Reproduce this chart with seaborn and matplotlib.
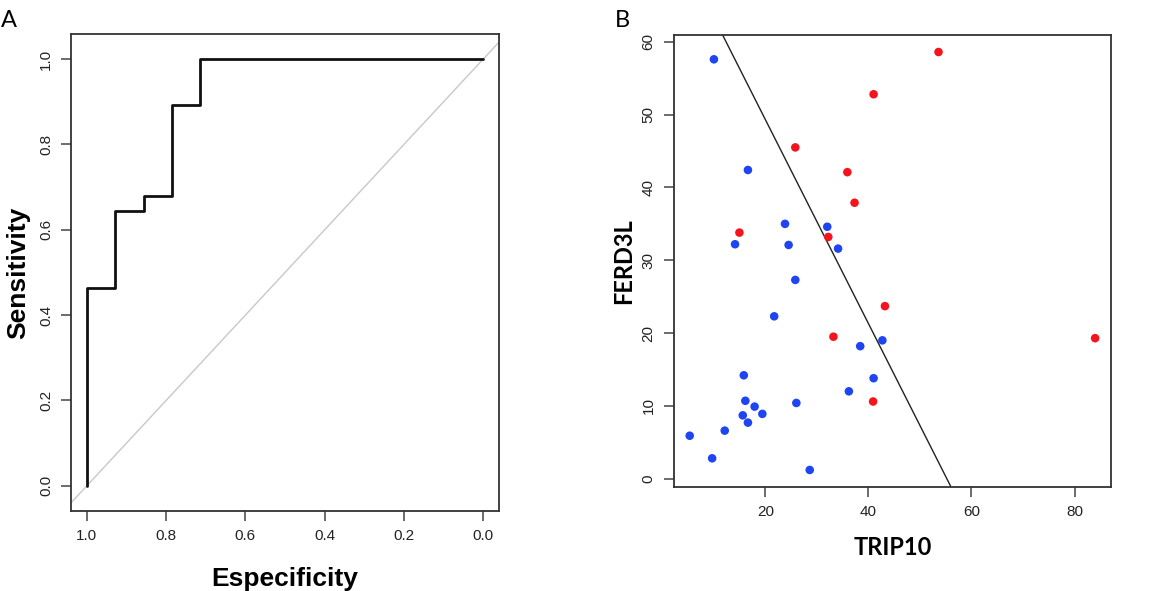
import matplotlib
matplotlib.use("Agg")
import matplotlib.pyplot as plt
import seaborn as sns
import pandas as pd
import numpy as np

# ---- Panel A data (ROC) ----
specificity = [1.0, 1.0, 0.929, 0.857, 0.786, 0.714, 0.0]
sensitivity = [0.0, 0.464, 0.643, 0.679, 0.893, 1.0, 1.0]
roc_ticks = [0.0, 0.2, 0.4, 0.6, 0.8, 1.0]

# ---- Panel B data (scatter) ----
trip10_blue = [10.0, 16.6, 23.8, 32.0, 14.1, 24.5, 34.1, 25.8, 21.7, 42.7, 38.4, 15.8,
               41.0, 36.2, 16.1, 26.0, 17.9, 15.6, 19.4, 16.6, 12.1, 5.3, 9.65, 28.6]
ferd3l_blue = [57.6, 42.4, 35.0, 34.6, 32.2, 32.1, 31.6, 27.3, 22.3, 19.0, 18.2, 14.2,
               13.8, 12.0, 10.7, 10.4, 9.9, 8.7, 8.9, 7.7, 6.6, 5.9, 2.8, 1.2]
trip10_red = [53.6, 41.0, 25.8, 35.9, 37.3, 14.95, 32.2, 43.2, 33.2, 84.0, 40.9]
ferd3l_red = [58.6, 52.8, 45.5, 42.1, 37.9, 33.8, 33.2, 23.7, 19.5, 19.3, 10.6]
line_intercept = 77.3
line_slope = -1.40
x_ticks_b = [20, 40, 60, 80]
y_ticks_b = [0, 10, 20, 30, 40, 50, 60]

sns.set_theme(style="white")
plt.rcParams['font.family'] = ['Liberation Sans', 'DejaVu Sans']
plt.rcParams['text.color'] = 'black'
plt.rcParams['axes.labelcolor'] = 'black'

fig = plt.figure(figsize=(11.75, 5.91), dpi=100)
axA = fig.add_axes([0.0604, 0.1354, 0.3643, 0.8071])
axB = fig.add_axes([0.5734, 0.176, 0.3722, 0.7643])

spine_col = "#333333"
tick_col = "#444444"

# Panel A
roc_df = pd.DataFrame({"spec": specificity, "sens": sensitivity})
axA.axline((1.0, 0.0), slope=-1, color="#c8c8c8", lw=1.0, zorder=1)
sns.lineplot(data=roc_df, x="spec", y="sens", ax=axA, sort=False, estimator=None,
             drawstyle="steps-post", color="#111111", lw=2.0, zorder=3)
axA.set_xlim(1.04, -0.04)
axA.set_ylim(-0.059, 1.059)
axA.set_xticks(roc_ticks)
axA.set_xticklabels([f"{v:.1f}" for v in roc_ticks])
axA.set_yticks(roc_ticks)
axA.set_yticklabels([f"{v:.1f}" for v in roc_ticks], rotation=90, va="center")
axA.set_xlabel("Especificity", fontsize=19, fontweight="bold", labelpad=17, color="black")
axA.set_ylabel("Sensitivity", fontsize=19, fontweight="bold", labelpad=6, color="black")

# Panel B
scat = pd.DataFrame({
    "TRIP10": trip10_blue + trip10_red,
    "FERD3L": ferd3l_blue + ferd3l_red,
    "grp": ["blue"] * len(trip10_blue) + ["red"] * len(trip10_red),
})
sns.scatterplot(data=scat, x="TRIP10", y="FERD3L", hue="grp", ax=axB,
                palette={"blue": "#1f44f2", "red": "#f5141e"}, s=38,
                edgecolor="none", legend=False, zorder=3)
axB.axline((0, line_intercept), slope=line_slope, color="#222222", lw=1.0, zorder=2)
axB.set_xlim(2.2, 87.1)
axB.set_ylim(-1.14, 60.9)
axB.set_xticks(x_ticks_b)
axB.set_yticks(y_ticks_b)
axB.set_yticklabels([str(v) for v in y_ticks_b], rotation=90, va="center")
axB.set_xlabel("TRIP10", fontsize=17, fontweight="bold", family=["Lato", "DejaVu Sans"],
               labelpad=12, color="black")
axB.set_ylabel("FERD3L", fontsize=17, fontweight="bold", family=["Lato", "DejaVu Sans"],
               labelpad=5, color="black")

for ax in (axA, axB):
    for sp in ax.spines.values():
        sp.set_color(spine_col)
        sp.set_linewidth(1.3)
    ax.tick_params(axis="both", direction="out", length=7, width=1.1, color=tick_col,
                   labelsize=11, labelcolor="#222222", pad=6)
    ax.tick_params(left=True, bottom=True)

fig.text(0.001, 0.965, "A", fontsize=17, family=["Lato", "DejaVu Sans"], va="center", ha="left")
fig.text(0.523, 0.965, "B", fontsize=17, family=["Lato", "DejaVu Sans"], va="center", ha="left")

fig.savefig("out.png", dpi=100)
